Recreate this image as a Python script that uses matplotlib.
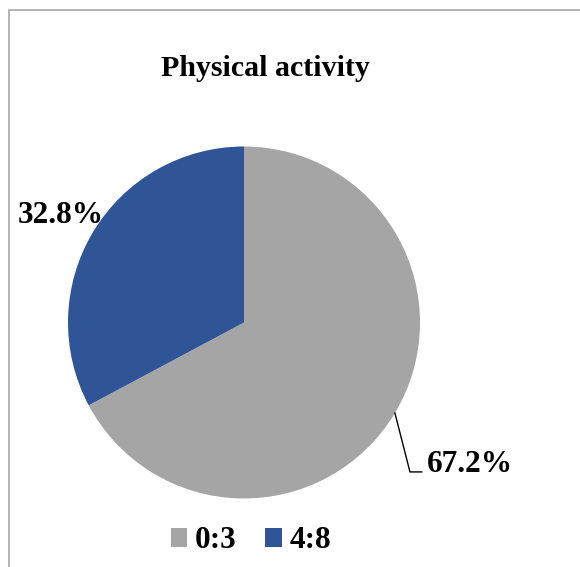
import matplotlib
matplotlib.use("Agg")
import matplotlib.pyplot as plt
from matplotlib.patches import Rectangle
import numpy as np

plt.rcParams["font.family"] = ["Liberation Serif", "DejaVu Serif"]
plt.rcParams["font.weight"] = "bold"

title = "Physical activity"
categories = ["0:3", "4:8"]
shares = [67.2, 32.8]
colors = ["#A5A5A5", "#2F5597"]

W, H = 580, 567
fig = plt.figure(figsize=(W / 100, H / 100), dpi=100)

# chart border (extends past right/bottom edge like the source)
fig.add_artist(Rectangle((9 / W, -0.2), 1.2, 1 - 10 / H + 0.2, transform=fig.transFigure,
                         fill=False, ec="#A6A6A6", lw=1.2))

# pie axes: centre (244, 322.5) px, radius 176 px
cx, cy, r = 244, 322.5, 176
ax = fig.add_axes([(cx - r) / W, (H - cy - r) / H, 2 * r / W, 2 * r / H])
wedges, _ = ax.pie(shares, colors=colors, startangle=90, counterclock=False, radius=1)
ax.set_xlim(-1, 1)
ax.set_ylim(-1, 1)
ax.set_aspect("equal")
ax.axis("off")

fs = 22.5
for w, val in zip(wedges, shares):
    mid = np.deg2rad((w.theta1 + w.theta2) / 2)
    x, y = np.cos(mid), np.sin(mid)
    if x > 0:
        # leader line to label at lower right
        bx, by = 0.943, -0.849
        ax.plot([x, bx, 1.01], [y, by, by], color="black", lw=1, clip_on=False)
        ax.text(1.04, by, f"{val:.1f}%", ha="left", va="baseline", fontsize=fs,
                fontweight="bold", clip_on=False)
    else:
        ax.text(1.22 * x + 0.005, 1.22 * y - 0.02, f"{val:.1f}%", ha="center", va="center",
                fontsize=fs, fontweight="bold", clip_on=False)

fig.text(265.5 / W, 1 - 76 / H, title, ha="center", va="baseline", fontsize=21.5,
         fontweight="bold")

fig.legend(wedges, categories, loc="center", bbox_to_anchor=(251 / W, 1 - 541 / H),
           ncol=2, frameon=False, handlelength=0.53, handleheight=0.53,
           handletextpad=0.26, columnspacing=0.9, prop={"weight": "bold", "size": fs})

fig.savefig("out.png", dpi=100)
